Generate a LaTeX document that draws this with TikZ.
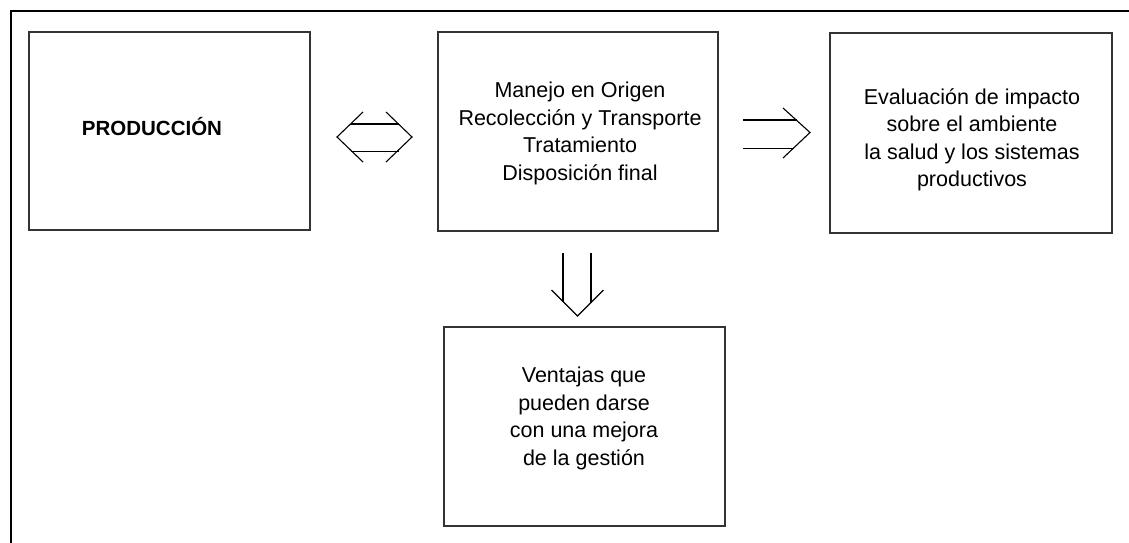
\documentclass[tikz,border=0pt]{standalone}
\usepackage{fontspec}
\setmainfont{Liberation Sans}
\begin{document}
\begin{tikzpicture}[x=1pt,y=-1pt,
  box/.style={draw=black!80, line width=1.3pt, inner sep=0pt, outer sep=0pt, fill=white},
  txt/.style={font=\fontsize{21.5}{27.5}\selectfont, align=center, inner sep=0pt},
  arr/.style={draw=black, line width=1.1pt, line join=miter}]
\useasboundingbox (0,0) rectangle (1129,542);
% outer frame
\draw[line width=2pt] (11,543) -- (11,11) -- (1131,11);
% boxes
\node[box, minimum width=281pt, minimum height=198pt] (prod) at (169.5,131) {};
\node[box, minimum width=280pt, minimum height=199pt] (manejo) at (578,131.5) {};
\node[box, minimum width=282pt, minimum height=200pt] (eval) at (971,133) {};
\node[box, minimum width=281pt, minimum height=199pt] (vent) at (584.5,426.5) {};
% texts
\node[font=\bfseries\fontsize{20.5}{24}\selectfont, anchor=base, inner sep=0pt] (prodtext) at (152,135) {PRODUCCIÓN};
\node[txt] (manejotext) at (580,133.5) {Manejo en Origen\\Recolección y Transporte\\Tratamiento\\Disposición final};
\node[txt] (evaltext) at (972,140) {Evaluación de impacto\\sobre el ambiente\\la salud y los sistemas\\productivos};
\node[txt] (venttext) at (584,418.5) {Ventajas que\\pueden darse\\con una mejora\\de la gestión};
% double arrow between prod and manejo
\draw[arr] (363,112) -- (337,137) -- (363,162);
\draw[arr] (386,112) -- (412,137) -- (386,162);
\draw[arr] (350.5,124) -- (398.5,124);
\draw[arr] (350.5,151.5) -- (398.5,151.5);
% right arrow between manejo and eval
\draw[arr] (783,108) -- (810,132.5) -- (783,158);
\draw[arr] (743,120) -- (796.5,120);
\draw[arr] (743,148.5) -- (794,148.5);
% down arrow between manejo and vent
\draw[arr] (551.5,290) -- (577.5,316) -- (603.5,290);
\draw[arr] (563,253) -- (563,301.5);
\draw[arr] (591,253) -- (591,302.5);
\end{tikzpicture}
\end{document}
